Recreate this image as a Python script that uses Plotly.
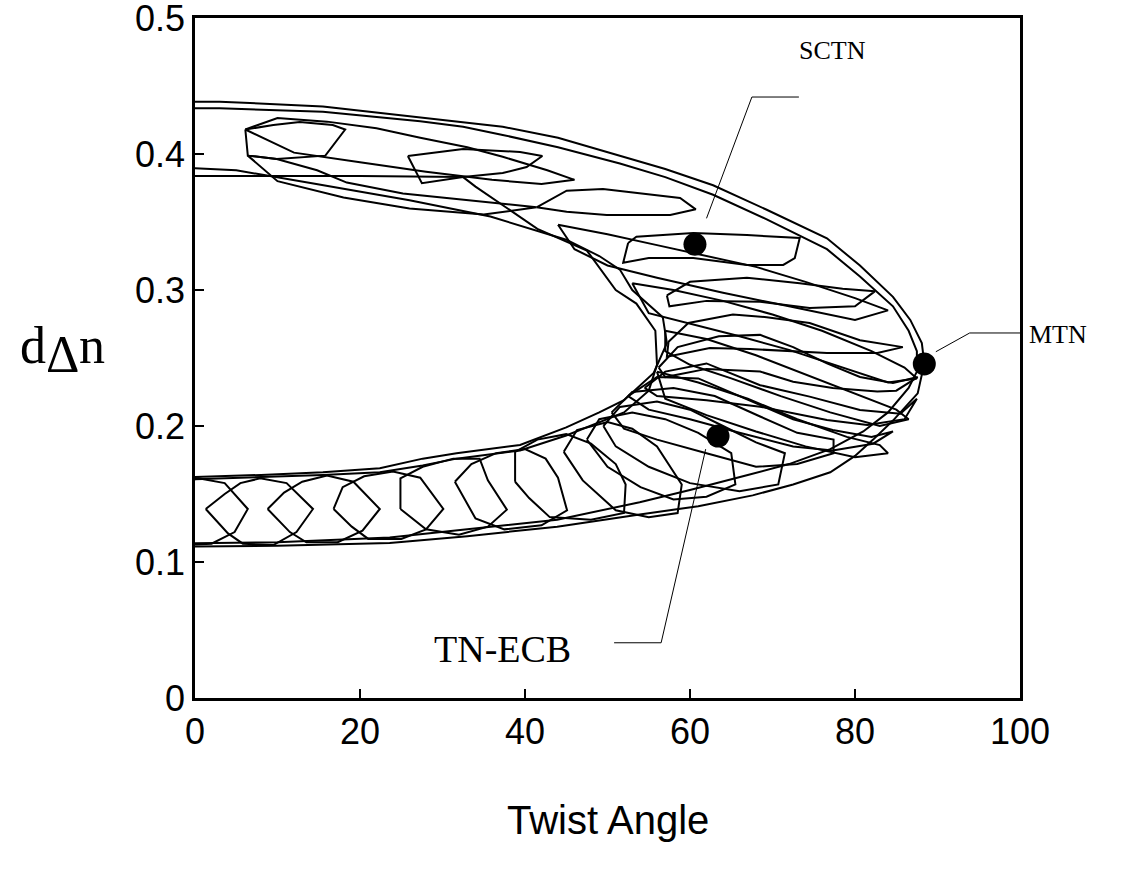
import plotly.graph_objects as go

# ---------------- data ----------------
# outer/inner envelope contours (twist angle, d*dn)
env_a_x = [-5, 3, 15.5, 27.3, 37.3, 44, 51.5, 57, 62.8, 69.3, 76.6, 80.6, 84.6, 86.7, 88.1, 88.4, 87.6, 84.6, 82.2, 80, 77, 72.5, 67.6, 61, 53.9, 43.9, 33, 23.6, 10, 0, -5,
           -5, 0, 8, 15.5, 22.4, 27.6, 31.7, 39.4, 45, 49, 52, 55.6, 57.2, 56.7, 53, 51.5, 49, 45, 35.8, 26, 14.7, 5, 0, -5, -5]
env_a_y = [0.4385, 0.4385, 0.435, 0.427, 0.42, 0.412, 0.399, 0.389, 0.377, 0.359, 0.338, 0.318, 0.295, 0.278, 0.261, 0.246, 0.224, 0.204, 0.19, 0.178, 0.166, 0.157, 0.149, 0.141, 0.135, 0.126, 0.119, 0.114, 0.112, 0.111, 0.111,
           0.1625, 0.1625, 0.164, 0.166, 0.169, 0.176, 0.18, 0.186, 0.199, 0.21, 0.219, 0.239, 0.261, 0.28, 0.30, 0.315, 0.325, 0.337, 0.354, 0.366, 0.378, 0.388, 0.3895, 0.3895, 0.4385]
env_b_x = [-5, 3, 15.5, 27.3, 32.5, 37.3, 44, 51.5, 57, 62.8, 69.3, 76.6, 80.6, 84.6, 86.5, 87.5, 87.5, 86.5, 84, 81, 77, 72, 67, 60, 53.9, 43.9, 33, 23.6, 10, 0, -5,
           -5, 0, 8, 15.5, 22.4, 27.6, 31.7, 39.4, 45, 49, 52, 55, 56, 55.8, 53.5, 51, 47.5, 41.5, 37.3, 34, 32.5, 20, 0, -5, -5]
env_b_y = [0.4336, 0.4336, 0.431, 0.424, 0.42, 0.414, 0.405, 0.393, 0.383, 0.37, 0.352, 0.33, 0.31, 0.288, 0.27, 0.255, 0.24, 0.228, 0.21, 0.196, 0.183, 0.172, 0.164, 0.153, 0.144, 0.131, 0.124, 0.118, 0.1145, 0.1135, 0.1135,
           0.1608, 0.1608, 0.1625, 0.164, 0.166, 0.171, 0.176, 0.182, 0.193, 0.203, 0.21, 0.226, 0.245, 0.27, 0.29, 0.30, 0.329, 0.345, 0.362, 0.376, 0.383, 0.3838, 0.3838, 0.3838, 0.4336]

# upper band loops
u1_x = [6.1, 9.5, 12.7, 16.7, 18.2, 15.8, 9.9, 6.4, 6.1]
u1_y = [0.418, 0.4213, 0.4235, 0.4213, 0.418, 0.3988, 0.3963, 0.3988, 0.418]
u2_x = [25.8, 32.5, 39.4, 42.1, 40.2, 37.3, 32.5, 27.5, 25.8]
u2_y = [0.3985, 0.4037, 0.4015, 0.3985, 0.3904, 0.386, 0.3831, 0.3785, 0.3985]
u3_x = [41.4, 45.05, 49.45, 54.75, 58.8, 60.7, 57.6, 49.9, 45.05, 41.4]
u3_y = [0.3608, 0.373, 0.3743, 0.3706, 0.3676, 0.3593, 0.3551, 0.3551, 0.3576, 0.3608]
u4_x = [52.5, 53.5, 60.4, 66.9, 73.3, 72.7, 71.3, 66.9, 60.4, 55, 51.9, 52.5]
u4_y = [0.3346, 0.3392, 0.3419, 0.3404, 0.3382, 0.3235, 0.3184, 0.3184, 0.3235, 0.3235, 0.32, 0.3346]
ud1_x = [6.4, 9.9, 14.8, 18.4, 25.2, 33, 41.4, 35, 26, 18, 10, 6.4]
ud1_y = [0.3988, 0.3963, 0.388, 0.379, 0.371, 0.366, 0.3608, 0.3555, 0.36, 0.368, 0.38, 0.3988]
ud2_x = [6.1, 10, 16, 22, 27.3, 33, 37.3, 42.7, 46, 42, 36, 28, 20, 12, 6.1]
ud2_y = [0.418, 0.4265, 0.4238, 0.419, 0.412, 0.405, 0.398, 0.388, 0.381, 0.378, 0.381, 0.387, 0.394, 0.401, 0.418]

# bend loops (near-horizontal family)
b1_x = [57.2, 60, 66.9, 73.3, 78.5, 82.4, 80, 74.5, 68.5, 62, 57.5, 57.2]
b1_y = [0.296, 0.306, 0.309, 0.305, 0.301, 0.299, 0.288, 0.2867, 0.2914, 0.292, 0.288, 0.296]
b2_x = [57.4, 59.8, 65.2, 69.3, 74.5, 80.6, 85.8, 82.7, 76.6, 67.3, 62.4, 57.2, 57.4]
b2_y = [0.262, 0.2757, 0.282, 0.280, 0.2757, 0.263, 0.258, 0.2537, 0.2537, 0.2566, 0.2574, 0.251, 0.262]
b3_x = [56.2, 58.5, 63.5, 68.5, 72.5, 76.6, 80.6, 84.6, 87.6, 85, 82.7, 77.3, 72.5, 68.5, 62, 57, 56.2]
b3_y = [0.243, 0.258, 0.266, 0.267, 0.258, 0.246, 0.236, 0.2316, 0.236, 0.226, 0.2253, 0.228, 0.2326, 0.24, 0.242, 0.236, 0.243]
b4_x = [54.5, 57, 62, 68.5, 74.5, 80.6, 85.5, 87.5, 86, 81.5, 76.6, 68.5, 62, 56, 54.5]
b4_y = [0.228, 0.24, 0.246, 0.23, 0.2216, 0.2118, 0.209, 0.22, 0.205, 0.2007, 0.2044, 0.2142, 0.219, 0.222, 0.228]
b5_x = [52.5, 56, 61, 66, 72.5, 77.3, 82, 84.6, 82.2, 77.3, 72.5, 66, 60, 55, 52.5]
b5_y = [0.222, 0.236, 0.235, 0.222, 0.205, 0.197, 0.192, 0.196, 0.187, 0.182, 0.185, 0.195, 0.205, 0.212, 0.222]
b6_x = [50.5, 53, 58, 63, 68.5, 73, 77.4, 77.4, 73, 68, 62, 56, 52, 50.5]
b6_y = [0.21, 0.225, 0.228, 0.222, 0.207, 0.195, 0.19, 0.18, 0.172, 0.17, 0.18, 0.19, 0.198, 0.21]

# bend loops (diagonal family)
d1_x = [44, 50, 56, 62, 68, 74, 80, 84, 80, 72, 64, 56, 50, 46, 44]
d1_y = [0.348, 0.341, 0.333, 0.325, 0.317, 0.306, 0.294, 0.285, 0.278, 0.288, 0.298, 0.309, 0.318, 0.33, 0.348]
d2_x = [53, 58, 64, 70, 76, 82, 86, 87.5, 84, 78, 72, 66, 60, 55, 53]
d2_y = [0.305, 0.3, 0.292, 0.282, 0.27, 0.255, 0.243, 0.235, 0.232, 0.244, 0.256, 0.266, 0.275, 0.283, 0.305]
d3_x = [57, 62, 68, 74, 80, 85, 86.5, 83, 77, 71, 65, 60, 57, 57]
d3_y = [0.27, 0.264, 0.252, 0.238, 0.224, 0.212, 0.205, 0.2, 0.21, 0.222, 0.235, 0.245, 0.255, 0.27]
d4_x = [56, 61, 67, 73, 79, 83, 84, 80, 74, 68, 62, 57, 56]
d4_y = [0.24, 0.232, 0.22, 0.205, 0.192, 0.186, 0.18, 0.177, 0.185, 0.196, 0.208, 0.22, 0.24]

# lower band loops
lb0_x = [-6.2, -3.9, -2, 0.4, 3.6, 6.4, 4.8, 2, -1.7, -3.5, -6.2]
lb0_y = [0.139, 0.15, 0.158, 0.1615, 0.158, 0.139, 0.122, 0.1135, 0.1125, 0.121, 0.139]
lb1_x = [1.3, 3.6, 5.5, 7.9, 11.1, 14.3, 12.3, 9.5, 5.8, 4.0, 1.3]
lb1_y = [0.139, 0.15, 0.158, 0.1615, 0.158, 0.139, 0.122, 0.1125, 0.1135, 0.121, 0.139]
lb2_x = [8.8, 10.8, 13, 16, 19.2, 22.4, 20.3, 17.3, 13.5, 11.5, 8.8]
lb2_y = [0.139, 0.151, 0.159, 0.1635, 0.159, 0.139, 0.123, 0.1145, 0.1145, 0.122, 0.139]
lb3_x = [16.8, 17.9, 20.5, 24, 27.3, 30.1, 28, 25, 21, 19, 16.8]
lb3_y = [0.139, 0.155, 0.163, 0.1665, 0.162, 0.139, 0.124, 0.117, 0.117, 0.126, 0.139]
lb4_x = [24.9, 24.9, 27.6, 31.3, 34.5, 35.5, 37.8, 35.5, 32, 28, 24.9]
lb4_y = [0.139, 0.1615, 0.17, 0.176, 0.176, 0.16, 0.1385, 0.126, 0.12, 0.124, 0.139]
lb5_x = [31.5, 33.5, 36.5, 40, 42.5, 44, 45.1, 42, 37.5, 34, 31.5]
lb5_y = [0.159, 0.172, 0.18, 0.183, 0.176, 0.162, 0.138, 0.127, 0.124, 0.132, 0.159]
lb6_x = [38.8, 38.8, 41.5, 45, 48, 51, 52.2, 52, 48, 43, 40.5, 38.8]
lb6_y = [0.159, 0.181, 0.19, 0.194, 0.187, 0.172, 0.157, 0.136, 0.131, 0.133, 0.147, 0.159]
lb7_x = [44.7, 46.3, 50, 53, 56, 59, 58.5, 55, 51, 47, 44.7]
lb7_y = [0.181, 0.197, 0.203, 0.198, 0.185, 0.157, 0.136, 0.133, 0.138, 0.16, 0.181]
lb8_x = [47.5, 49, 53, 57, 61, 65, 65.5, 62, 58, 54, 50, 47.5]
lb8_y = [0.19, 0.205, 0.21, 0.205, 0.195, 0.18, 0.157, 0.148, 0.146, 0.155, 0.17, 0.19]
lb9_x = [49.5, 51.5, 56, 60, 64, 68, 71.5, 70.7, 66, 60, 55, 51, 49.5]
lb9_y = [0.2, 0.214, 0.218, 0.212, 0.2, 0.188, 0.18, 0.157, 0.152, 0.158, 0.17, 0.185, 0.2]

loops = [
    (env_a_x, env_a_y), (env_b_x, env_b_y),
    (u1_x, u1_y), (u2_x, u2_y), (u3_x, u3_y), (u4_x, u4_y), (ud1_x, ud1_y), (ud2_x, ud2_y),
    (b1_x, b1_y), (b2_x, b2_y), (b3_x, b3_y), (b4_x, b4_y), (b5_x, b5_y), (b6_x, b6_y),
    (d1_x, d1_y), (d2_x, d2_y), (d3_x, d3_y), (d4_x, d4_y),
    (lb0_x, lb0_y), (lb1_x, lb1_y), (lb2_x, lb2_y), (lb3_x, lb3_y), (lb4_x, lb4_y),
    (lb5_x, lb5_y), (lb6_x, lb6_y), (lb7_x, lb7_y), (lb8_x, lb8_y), (lb9_x, lb9_y),
]

# marked modes
mode_names = ["SCTN", "MTN", "TN-ECB"]
mode_x = [60.6, 88.4, 63.4]
mode_y = [0.3336, 0.2456, 0.1926]

# leader lines
sctn_lead_x = [62.0, 67.5, 73.2]
sctn_lead_y = [0.3527, 0.4419, 0.4419]
mtn_lead_x = [89.8, 93.9, 100.2]
mtn_lead_y = [0.2546, 0.2684, 0.2684]
ecb_lead_x = [61.9, 56.5, 50.8]
ecb_lead_y = [0.183, 0.0406, 0.0406]

x_ticks = [0, 20, 40, 60, 80, 100]
y_ticks = [0, 0.1, 0.2, 0.3, 0.4, 0.5]
y_tick_text = ["0", "0.1", "0.2", "0.3", "0.4", "0.5"]

# ---------------- figure ----------------
fig = go.Figure()
for lx, ly in loops:
    fig.add_trace(go.Scatter(x=lx, y=ly, mode="lines",
                             line=dict(color="black", width=2),
                             hoverinfo="skip", showlegend=False))

for lx, ly in [(sctn_lead_x, sctn_lead_y), (mtn_lead_x, mtn_lead_y), (ecb_lead_x, ecb_lead_y)]:
    fig.add_trace(go.Scatter(x=lx, y=ly, mode="lines",
                             line=dict(color="black", width=1),
                             hoverinfo="skip", showlegend=False))

fig.add_trace(go.Scatter(x=mode_x, y=mode_y, mode="markers", text=mode_names,
                         marker=dict(color="black", size=23),
                         showlegend=False, cliponaxis=False))

serif = "Liberation Serif, Times New Roman, serif"
sans = "Liberation Sans, Arial, sans-serif"

for txt, px, py, fs in [("SCTN", 832, 50, 26), ("MTN", 1058, 334, 26), ("TN-ECB", 502.5, 649, 38)]:
    fig.add_annotation(xref="paper", yref="paper", x=(px - 195) / 825, y=(698 - py) / 680, text=txt,
                       showarrow=False, xanchor="center", yanchor="middle",
                       font=dict(family=serif, size=fs, color="black"))

# axis titles
fig.add_annotation(xref="paper", yref="paper", x=(608 - 195) / 825, y=(698 - 820) / 680,
                   text="Twist Angle", showarrow=False, xanchor="center", yanchor="middle",
                   font=dict(family=sans, size=40, color="black"))
for txt, px, py in [("d", 32.5, 345.5), ("Δ", 62.5, 354), ("n", 91.7, 345.5)]:
    fig.add_annotation(xref="paper", yref="paper", x=(px - 195) / 825, y=(698 - py) / 680,
                       text=txt, showarrow=False, xanchor="center", yanchor="middle",
                       font=dict(family=serif, size=52, color="black"))

fig.update_layout(
    width=1138, height=869,
    margin=dict(l=195, r=118, t=18, b=171, autoexpand=False),
    paper_bgcolor="white", plot_bgcolor="white",
    showlegend=False,
)
fig.update_xaxes(range=[0, 100], tickvals=x_ticks, ticks="inside", ticklen=9, tickwidth=2,
                 tickcolor="black", showline=True, linewidth=2.5, linecolor="black", mirror=True,
                 showgrid=False, zeroline=False, ticklabeloverflow="allow", automargin=False,
                 tickfont=dict(family=sans, size=36, color="black"))
fig.update_yaxes(range=[0, 0.5], tickvals=y_ticks, ticktext=y_tick_text, ticks="inside", ticklen=9,
                 tickwidth=2, tickcolor="black", showline=True, linewidth=2.5, linecolor="black",
                 mirror=True, showgrid=False, zeroline=False, ticklabeloverflow="allow", automargin=False,
                 tickfont=dict(family=sans, size=36, color="black"))

fig.write_html("out.html")
